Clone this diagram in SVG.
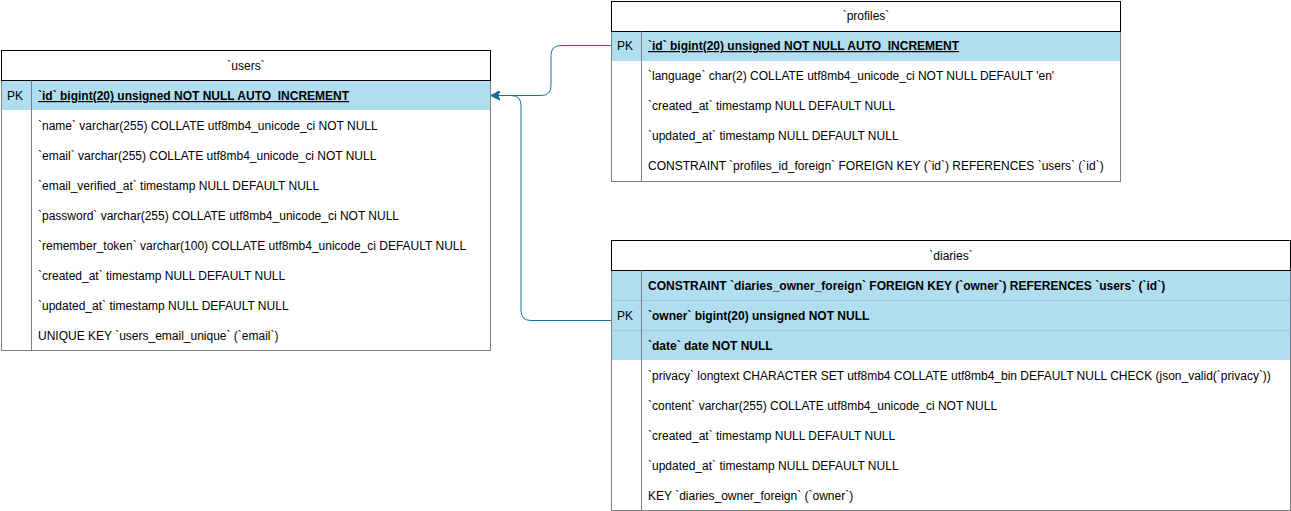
<svg xmlns="http://www.w3.org/2000/svg" width="1291" height="511" viewBox="0 0 1291 511">
<style>
text{font-family:"Liberation Sans",Arial,sans-serif;font-size:12px;fill:#000}
.t{text-anchor:middle}
.b{font-weight:bold}
.u{text-decoration:underline}
.title{fill:#fff;stroke:#000;stroke-width:1}
.body{fill:#fff;stroke:#808080;stroke-width:1}
.key{fill:#b1ddf0;stroke:none}
.sep{stroke:#a0c8dc;stroke-width:1}
.div{stroke:#808080;stroke-width:1}
.edge{fill:none;stroke:#10739e;stroke-width:1}
</style>
<defs>
<marker id="arr" markerWidth="10" markerHeight="10" refX="9" refY="5" orient="auto" markerUnits="userSpaceOnUse">
<path d="M9,5 L0,0.5 L2.5,5 L0,9.5 Z" fill="#10739e" stroke="#10739e" stroke-width="1"/>
</marker>
</defs>
<g id="users">
<rect class="body" x="1.5" y="80.5" width="489" height="270"/>
<rect class="key" x="2" y="81" width="488" height="29"/>
<rect class="title" x="1.5" y="50.5" width="489" height="30"/>
<line class="div" x1="31.5" y1="80.5" x2="31.5" y2="350.5"/>
<text class="t" x="246" y="70">`users`</text>
<text x="7" y="100">PK</text>
<text class="b u" x="38" y="100">`id` bigint(20) unsigned NOT NULL AUTO_INCREMENT</text>
<text x="38" y="130">`name` varchar(255) COLLATE utf8mb4_unicode_ci NOT NULL</text>
<text x="38" y="160">`email` varchar(255) COLLATE utf8mb4_unicode_ci NOT NULL</text>
<text x="38" y="190">`email_verified_at` timestamp NULL DEFAULT NULL</text>
<text x="38" y="220">`password` varchar(255) COLLATE utf8mb4_unicode_ci NOT NULL</text>
<text x="38" y="250">`remember_token` varchar(100) COLLATE utf8mb4_unicode_ci DEFAULT NULL</text>
<text x="38" y="280">`created_at` timestamp NULL DEFAULT NULL</text>
<text x="38" y="310">`updated_at` timestamp NULL DEFAULT NULL</text>
<text x="38" y="340">UNIQUE KEY `users_email_unique` (`email`)</text>
</g>
<g id="profiles">
<rect class="body" x="611.5" y="31.5" width="509" height="150"/>
<rect class="key" x="612" y="32" width="508" height="29"/>
<rect class="title" x="611.5" y="1.5" width="509" height="30"/>
<line class="div" x1="641.5" y1="31.5" x2="641.5" y2="181.5"/>
<text class="t" x="866" y="20">`profiles`</text>
<text x="617" y="50">PK</text>
<text class="b u" x="648" y="50">`id` bigint(20) unsigned NOT NULL AUTO_INCREMENT</text>
<text x="648" y="80">`language` char(2) COLLATE utf8mb4_unicode_ci NOT NULL DEFAULT 'en'</text>
<text x="648" y="110">`created_at` timestamp NULL DEFAULT NULL</text>
<text x="648" y="140">`updated_at` timestamp NULL DEFAULT NULL</text>
<text x="648" y="170">CONSTRAINT `profiles_id_foreign` FOREIGN KEY (`id`) REFERENCES `users` (`id`)</text>
</g>
<g id="diaries">
<rect class="body" x="611.5" y="270.5" width="679" height="240"/>
<rect class="key" x="612" y="271" width="678" height="89"/>
<line class="sep" x1="612" y1="300.5" x2="1290" y2="300.5"/>
<line class="sep" x1="612" y1="330.5" x2="1290" y2="330.5"/>
<rect class="title" x="611.5" y="240.5" width="679" height="30"/>
<line class="div" x1="641.5" y1="270.5" x2="641.5" y2="510.5"/>
<text class="t" x="951" y="260">`diaries`</text>
<text class="b" x="648" y="290">CONSTRAINT `diaries_owner_foreign` FOREIGN KEY (`owner`) REFERENCES `users` (`id`)</text>
<text x="617" y="320">PK</text>
<text class="b" x="648" y="320">`owner` bigint(20) unsigned NOT NULL</text>
<text class="b" x="648" y="350">`date` date NOT NULL</text>
<text x="648" y="380">`privacy` longtext CHARACTER SET utf8mb4 COLLATE utf8mb4_bin DEFAULT NULL CHECK (json_valid(`privacy`))</text>
<text x="648" y="410">`content` varchar(255) COLLATE utf8mb4_unicode_ci NOT NULL</text>
<text x="648" y="440">`created_at` timestamp NULL DEFAULT NULL</text>
<text x="648" y="470">`updated_at` timestamp NULL DEFAULT NULL</text>
<text x="648" y="500">KEY `diaries_owner_foreign` (`owner`)</text>
</g>
<g id="connectors">
<path class="edge" d="M611,45.5 L561,45.5 Q551,45.5 551,55.5 L551,85.5 Q551,95.5 541,95.5 L491,95.5" marker-end="url(#arr)"/>
<path class="edge" d="M611,320.5 L531,320.5 Q521,320.5 521,310.5 L521,105.5 Q521,95.5 511,95.5 L491,95.5" marker-end="url(#arr)"/>
</g>
</svg>
